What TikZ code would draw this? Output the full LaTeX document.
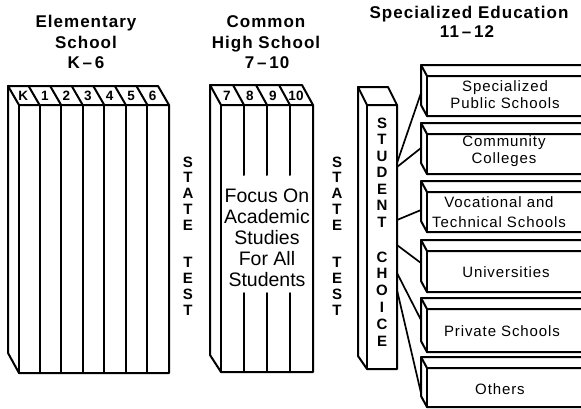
\documentclass[tikz,border=0pt]{standalone}
\usepackage{fontspec}
\setmainfont{Liberation Sans}
\newfontfamily\headfont[LetterSpace=6.0]{Liberation Sans}
\newfontfamily\boxfont[LetterSpace=6.0]{Liberation Sans}
\begin{document}
\begin{tikzpicture}[x=1pt,y=-1pt]
\tikzset{
  edge/.style={line width=2pt, line join=round, line cap=round},
  link/.style={line width=1.7pt, line cap=round},
  head/.style={font=\headfont\bfseries\fontsize{17}{20}\selectfont, anchor=base, inner sep=0pt},
  vlet/.style={font=\bfseries\fontsize{15}{15}\selectfont, inner sep=0pt},
  grade/.style={font=\bfseries\fontsize{13.5}{13.5}\selectfont, inner sep=0pt},
  focus/.style={font=\fontsize{19.5}{21}\selectfont, anchor=base, inner sep=0pt},
  boxtext/.style={font=\boxfont\fontsize{15}{17}\selectfont, align=center, inner sep=0pt}
}
\fill[white] (0,0) rectangle (581,408);
\useasboundingbox (0,0) rectangle (581,408);

% ---------- headings ----------
\node[head] (h1) at (86,27.5) {Elementary};
\node[head] (h2) at (86,48) {School};
\node[head] (h3) at (86,68.5) {K\,–\,6};
\node[head] (m1) at (266,27.5) {Common};
\node[head] (m2) at (266,48) {High School};
\node[head] (m3) at (267,68.5) {7\,–\,10};
\node[head] (s1) at (469,18.5) {Specialized Education};
\node[head] (s2) at (467,37) {11\,–\,12};

% ---------- elementary block ----------
\draw[edge] (19,105) -- (8,86) -- (158,86) -- (169,105) -- cycle;
\draw[edge] (8,86) -- (8,353) -- (19,373) -- (169,373) -- (169,105);
\draw[edge] (19,105) -- (19,373);
\foreach \i in {1,...,6} {
  \pgfmathsetmacro\xx{18+151*\i/7}
  \draw[edge] (\xx,105) -- (\xx,373);
  \draw[edge] (\xx,105) -- ({\xx-11},86);
}
\foreach \g/\gx [count=\k] in {K/23.3,1/44.9,2/66.4,3/88,4/109.6,5/131.2,6/152.7}
  \node[grade] (eg\k) at (\gx,95.5) {\g};

% ---------- common high school block ----------
\draw[edge] (221,105) -- (210,85) -- (302,85) -- (313,105) -- cycle;
\draw[edge] (210,85) -- (210,355) -- (221,372) -- (313,372) -- (313,105);
\draw[edge] (221,105) -- (221,372);
\foreach \xx in {244,267,290} {
  \draw[edge] (\xx,105) -- (\xx,175);
  \draw[edge] (\xx,293) -- (\xx,372);
  \draw[edge] (\xx,105) -- ({\xx-11},85);
}
\foreach \g/\gx [count=\k] in {7/227,8/250,9/273,10/296}
  \node[grade] (cg\k) at (\gx,95.5) {\g};
\node[focus] (f1) at (267,202) {Focus On};
\node[focus] (f2) at (267,223.2) {Academic};
\node[focus] (f3) at (267,244.4) {Studies};
\node[focus] (f4) at (267,265.6) {For All};
\node[focus] (f5) at (267,286.8) {Students};

% ---------- state test columns ----------
\foreach \l/\ly [count=\k] in {S/162,T/177.8,A/193.6,T/209.4,E/225.2,T/262,E/278,S/294,T/310} {
  \node[vlet] (sa\k) at (188,\ly) {\l};
  \node[vlet] (sb\k) at (337,\ly) {\l};
}

% ---------- student choice column ----------
\draw[edge] (367,105) -- (358,87) -- (388,87) -- (397,105) -- cycle;
\draw[edge] (358,87) -- (358,356) -- (367,369) -- (397,369) -- (397,105);
\draw[edge] (367,105) -- (367,369);
\foreach \l/\ly [count=\k] in {S/123,T/139.5,U/156,D/172.5,E/189,N/205.5,T/222,C/257,H/273.8,O/290.6,I/307.4,C/324.2,E/341}
  \node[vlet] (sc\k) at (382,\ly) {\l};

% ---------- option boxes ----------
\foreach \yb/\ybot [count=\k] in {65/116,123/174,181/232,240/292,298/352,357/407} {
  \draw[edge] (581,\yb) -- (421,\yb) -- (421,{\ybot-11}) -- (427,\ybot) -- (581,\ybot);
  \draw[edge] (421,\yb) -- (427,{\yb+11}) -- (581,{\yb+11});
  \draw[edge] (427,{\yb+11}) -- (427,\ybot);
}
\node[boxtext] (t1) at (505,95) {Specialized\\Public Schools};
\node[boxtext] (t2) at (504,151) {Community\\Colleges};
\node[boxtext, font=\boxfont\fontsize{15}{20}\selectfont] (t3) at (499,212) {Vocational and\\Technical Schools};
\node[boxtext] (t4) at (506,272) {Universities};
\node[boxtext] (t5) at (502,331) {Private Schools};
\node[boxtext] (t6) at (500,389) {Others};

% ---------- connectors ----------
\coordinate (cA) at (397,163);
\coordinate (cB) at (397,167);
\coordinate (cC) at (397,220);
\coordinate (cD) at (397,245);
\coordinate (cE) at (397,273);
\coordinate (cF) at (397,290);
\coordinate (bA) at (421,93);
\coordinate (bB) at (421,148);
\coordinate (bC) at (421,210);
\coordinate (bD) at (421,263);
\coordinate (bE) at (421,320);
\coordinate (bF) at (421,393);
\draw[link] (cA) -- (bA);
\draw[link] (cB) -- (bB);
\draw[link] (cC) -- (bC);
\draw[link] (cD) -- (bD);
\draw[link] (cE) -- (bE);
\draw[link] (cF) -- (bF);
\end{tikzpicture}
\end{document}
